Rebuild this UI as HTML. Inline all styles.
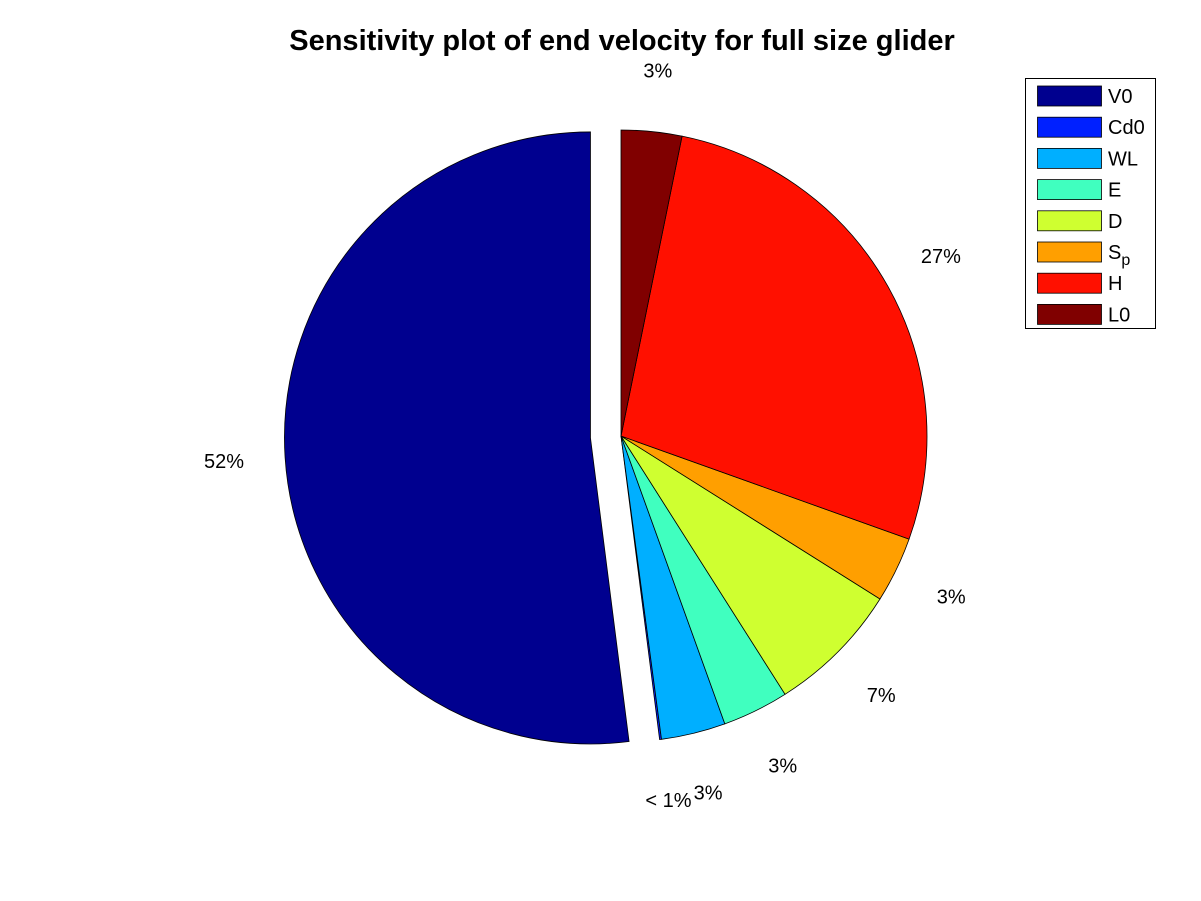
<!DOCTYPE html>
<html><head><meta charset="utf-8"><style>
html,body{margin:0;padding:0;background:#fff;}
svg{display:block;font-family:"Liberation Sans",Arial,sans-serif;}
</style></head><body>
<svg id="chart" width="1201" height="901" viewBox="0 0 1201 901">
<rect width="1201" height="901" fill="#fff"/>
<text x="622" y="50" text-anchor="middle" font-size="29" font-weight="bold">Sensitivity plot of end velocity for full size glider</text>
<g id="slices"></g>
<g id="labels"></g>
<g id="legend"></g>
</svg>
<script>
const categories = ["V0","Cd0","WL","E","D","Sp","H","L0"];
const values = [0.5206, 0.001, 0.034, 0.035, 0.0706, 0.0347, 0.273, 0.032];
const labels = ["52%","< 1%","3%","3%","7%","3%","27%","3%"];
const colors = ["#00008f","#0020ff","#00afff","#40ffbf","#cfff30","#ff9f00","#ff1000","#800000"];
const explode = [1,0,0,0,0,0,0,0];

const NS="http://www.w3.org/2000/svg";
const cx=621, cy=436, R=306;
const total=values.reduce((a,b)=>a+b,0);
const sg=document.getElementById('slices'), lg=document.getElementById('labels');
let a0=Math.PI/2;
values.forEach((v,i)=>{
  const a1=a0+v/total*2*Math.PI, am=(a0+a1)/2;
  let ox=cx, oy=cy;
  if(explode[i]){ox+=0.1*R*Math.cos(am); oy-=0.1*R*Math.sin(am);}
  const x0=ox+R*Math.cos(a0), y0=oy-R*Math.sin(a0), x1=ox+R*Math.cos(a1), y1=oy-R*Math.sin(a1);
  const large=(a1-a0)>Math.PI?1:0;
  const p=document.createElementNS(NS,'path');
  p.setAttribute('d',`M${ox},${oy} L${x0},${y0} A${R},${R} 0 ${large} 0 ${x1},${y1} Z`);
  p.setAttribute('fill',colors[i]); p.setAttribute('stroke','#000'); p.setAttribute('stroke-width','0.8');
  
  
  sg.appendChild(p);
  const t=document.createElementNS(NS,'text');
  t.setAttribute('x',ox+1.2*R*Math.cos(am)); t.setAttribute('y',oy-1.2*R*Math.sin(am)+7);
  t.setAttribute('text-anchor','middle'); t.setAttribute('font-size','20');
  t.textContent=labels[i];
  
  
  lg.appendChild(t);
  a0=a1;
});
const leg=document.getElementById('legend');
const box=document.createElementNS(NS,'rect');
box.setAttribute('x',1025.5);box.setAttribute('y',78.5);box.setAttribute('width',130);box.setAttribute('height',250);
box.setAttribute('fill','#fff');box.setAttribute('stroke','#000');


leg.appendChild(box);
categories.forEach((c,i)=>{
  const y=86+i*31.2;
  const g=document.createElementNS(NS,'g');
  
  
  const r=document.createElementNS(NS,'rect');
  r.setAttribute('x',1037.5);r.setAttribute('y',y);r.setAttribute('width',64);r.setAttribute('height',20);
  r.setAttribute('fill',colors[i]);r.setAttribute('stroke','#000');r.setAttribute('stroke-width','0.8');
  g.appendChild(r);
  const t=document.createElementNS(NS,'text');
  t.setAttribute('x',1108);t.setAttribute('y',y+17);t.setAttribute('font-size','20');
  if(c==="Sp"){t.innerHTML='S<tspan dy="6" font-size="16">p</tspan>';}else t.textContent=c;
  g.appendChild(t);
  leg.appendChild(g);
});
</script>
</body></html>
